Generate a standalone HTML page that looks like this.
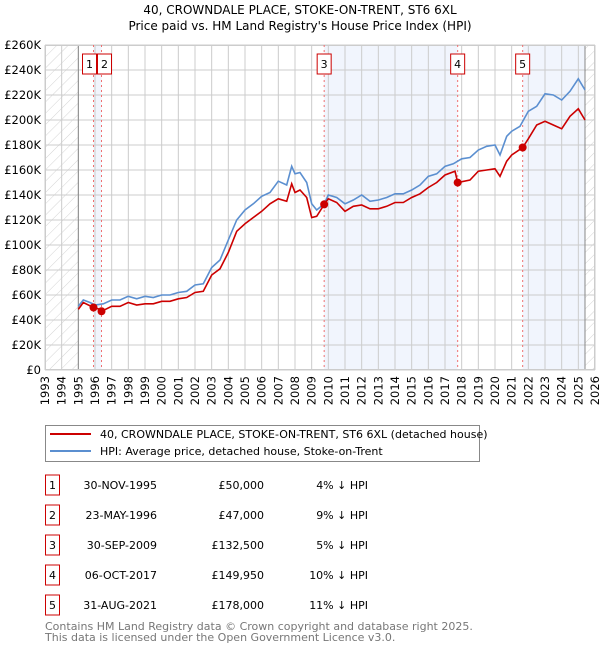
<!DOCTYPE html>
<html><head><meta charset="utf-8"><style>
body{margin:0;background:#fff;font-family:"DejaVu Sans",sans-serif}
svg text{font-family:"DejaVu Sans",sans-serif}
</style></head><body>
<svg id="chart" width="600" height="650" viewBox="0 0 600 650">
<defs><pattern id="hatch" width="8" height="8" patternUnits="userSpaceOnUse" patternTransform="rotate(45)"><line x1="0" y1="0" x2="0" y2="8" stroke="#d4d4d4" stroke-width="1"/></pattern></defs>
<text x="300" y="14" text-anchor="middle" font-size="12">40, CROWNDALE PLACE, STOKE-ON-TRENT, ST6 6XL</text>
<text x="300" y="30" text-anchor="middle" font-size="12">Price paid vs. HM Land Registry's House Price Index (HPI)</text>
<g id="plot"></g>
<g>
<rect x="45.5" y="425.5" width="434" height="36" fill="#fff" stroke="#888"/>
<line x1="50" y1="434" x2="91" y2="434" stroke="#cc0000" stroke-width="2"/>
<text x="100" y="438" font-size="11">40, CROWNDALE PLACE, STOKE-ON-TRENT, ST6 6XL (detached house)</text>
<line x1="50" y1="451" x2="91" y2="451" stroke="#5b8fd0" stroke-width="2"/>
<text x="100" y="455" font-size="11">HPI: Average price, detached house, Stoke-on-Trent</text>
</g>
<g id="table"></g>
<text x="45" y="630" font-size="11" fill="#777">Contains HM Land Registry data © Crown copyright and database right 2025.</text>
<text x="45" y="641" font-size="11" fill="#777">This data is licensed under the Open Government Licence v3.0.</text>
</svg>
<script>
const yTicks=[0,20,40,60,80,100,120,140,160,180,200,220,240,260];
const xYears=[1993,1994,1995,1996,1997,1998,1999,2000,2001,2002,2003,2004,2005,2006,2007,2008,2009,2010,2011,2012,2013,2014,2015,2016,2017,2018,2019,2020,2021,2022,2023,2024,2025,2026];
const hpiT=[1995,1995.3,1995.7,1996,1996.5,1997,1997.5,1998,1998.5,1999,1999.5,2000,2000.5,2001,2001.5,2002,2002.5,2003,2003.5,2004,2004.5,2005,2005.5,2006,2006.5,2007,2007.5,2007.8,2008,2008.3,2008.7,2009,2009.3,2009.75,2010,2010.5,2011,2011.5,2012,2012.5,2013,2013.5,2014,2014.5,2015,2015.5,2016,2016.5,2017,2017.5,2018,2018.5,2019,2019.5,2020,2020.3,2020.7,2021,2021.5,2022,2022.5,2023,2023.5,2024,2024.5,2025,2025.4];
const hpiV=[51,56,54,52,53,56,56,59,57,59,58,60,60,62,63,68,69,82,88,104,120,128,133,139,142,151,148,163,157,158,150,133,128,133,140,138,133,136,140,135,136,138,141,141,144,148,155,157,163,165,169,170,176,179,180,172,187,191,195,207,211,221,220,216,223,233,224];
const propT=[1995,1995.3,1995.91,1996.2,1996.39,1997,1997.5,1998,1998.5,1999,1999.5,2000,2000.5,2001,2001.5,2002,2002.5,2003,2003.5,2004,2004.5,2005,2005.5,2006,2006.5,2007,2007.5,2007.8,2008,2008.3,2008.7,2009,2009.3,2009.75,2010,2010.5,2011,2011.5,2012,2012.5,2013,2013.5,2014,2014.5,2015,2015.5,2016,2016.5,2017,2017.6,2017.76,2018.5,2019,2019.5,2020,2020.3,2020.7,2021,2021.66,2022,2022.5,2023,2023.5,2024,2024.5,2025,2025.4];
const propV=[48.5,54,50,49,47,51,51,54,52,53,53,55,55,57,58,62,63,76,81,94,111,117,122,127,133,137,135,149,142,144,138,122,123,132.5,137,134,127,131,132,129,129,131,134,134,138,141,146,150,156,159,150,152,159,160,161,155,167,172,178,185,196,199,196,193,203,209,200];
const saleT=[1995.91,1996.39,2009.75,2017.76,2021.66];
const saleV=[50,47,132.5,149.95,178];
const saleLabels=["1","2","3","4","5"];
const saleDates=["30-NOV-1995","23-MAY-1996","30-SEP-2009","06-OCT-2017","31-AUG-2021"];
const salePrices=["£50,000","£47,000","£132,500","£149,950","£178,000"];
const saleHpi=["4% ↓ HPI","9% ↓ HPI","5% ↓ HPI","10% ↓ HPI","11% ↓ HPI"];
const bands=[[1995.91,1996.39],[2009.75,2017.76],[2021.66,2025.4]];
const dataStart=1995, dataEnd=2025.4;

const X0=45,X1=595,Y0=370,Y1=45;
const xs=t=>X0+(t-1993)/(2026-1993)*(X1-X0);
const ys=v=>Y0-v/260*(Y0-Y1);
const NS="http://www.w3.org/2000/svg";
const plot=document.getElementById('plot');
function mk(tag,attrs,parent){const e=document.createElementNS(NS,tag);for(const k in attrs)e.setAttribute(k,attrs[k]);(parent||plot).appendChild(e);return e;}
mk('rect',{x:X0,y:Y1,width:X1-X0,height:Y0-Y1,fill:'#fff'});
bands.forEach(b=>{const r=mk('rect',{x:xs(b[0]),y:Y1,width:xs(b[1])-xs(b[0]),height:Y0-Y1,fill:'#eef3fc',opacity:0.8});

});
const h1=mk('rect',{x:X0,y:Y1,width:xs(dataStart)-X0,height:Y0-Y1,fill:'url(#hatch)'});


const h2=mk('rect',{x:xs(dataEnd),y:Y1,width:X1-xs(dataEnd),height:Y0-Y1,fill:'url(#hatch)'});


yTicks.forEach(v=>{mk('line',{x1:X0,x2:X1,y1:ys(v),y2:ys(v),stroke:'#ccc','stroke-width':1});
const t=mk('text',{x:X0-4,y:ys(v)+4,'text-anchor':'end','font-size':11.5});t.textContent=v===0?'£0':'£'+v+'K';

});
xYears.forEach(y=>{mk('line',{x1:xs(y),x2:xs(y),y1:Y1,y2:Y0,stroke:'#ccc','stroke-width':1});
const t=mk('text',{x:0,y:0,'text-anchor':'end','font-size':11.5,transform:`translate(${xs(y)+4},${Y0+6}) rotate(-90)`});t.textContent=y;

});
mk('line',{x1:xs(dataStart),x2:xs(dataStart),y1:Y1,y2:Y0,stroke:'#888'});
mk('line',{x1:xs(dataEnd),x2:xs(dataEnd),y1:Y1,y2:Y0,stroke:'#888'});
mk('rect',{x:X0+0.5,y:Y1+0.5,width:X1-X0-1,height:Y0-Y1-1,fill:'none',stroke:'#ccc'});
saleT.forEach((t,i)=>{const l=mk('line',{x1:xs(t),x2:xs(t),y1:Y1,y2:Y0,stroke:'#f07070','stroke-dasharray':'2,3'});

});
function path(T,V,col,name){const d=T.map((t,i)=>(i?'L':'M')+xs(t).toFixed(1)+','+ys(V[i]).toFixed(1)).join('');
const p=mk('path',{d:d,fill:'none',stroke:col,'stroke-width':1.6});

}
path(hpiT,hpiV,'#5b8fd0','hpi-line');
path(propT,propV,'#cc0000','property-line');
saleT.forEach((t,i)=>{const c=mk('circle',{cx:xs(t),cy:ys(saleV[i]),r:4,fill:'#cc0000'});


const g=mk('g',{});


const w=14, cx=(i===0)?xs(t)-4:(i===1?xs(t)+3:xs(t));
mk('rect',{x:cx-w/2,y:54,width:w,height:20,fill:'#fff',stroke:'#cc0000'},g);
const tx=mk('text',{x:cx,y:68,'text-anchor':'middle','font-size':11},g);tx.textContent=saleLabels[i];});
const tb=document.getElementById('table');
saleLabels.forEach((s,i)=>{const y=485+i*30;
const g=mk('g',{},tb);


mk('rect',{x:45.5,y:y-10,width:14,height:20,fill:'#fff',stroke:'#cc0000'},g);
const a=mk('text',{x:52.5,y:y+4,'text-anchor':'middle','font-size':11},g);a.textContent=s;
const b=mk('text',{x:157,y:y+4,'text-anchor':'end','font-size':11},g);b.textContent=saleDates[i];
const c=mk('text',{x:264,y:y+4,'text-anchor':'end','font-size':11},g);c.textContent=salePrices[i];
const d=mk('text',{x:368,y:y+4,'text-anchor':'end','font-size':11},g);d.textContent=saleHpi[i];});
</script>
</body></html>
